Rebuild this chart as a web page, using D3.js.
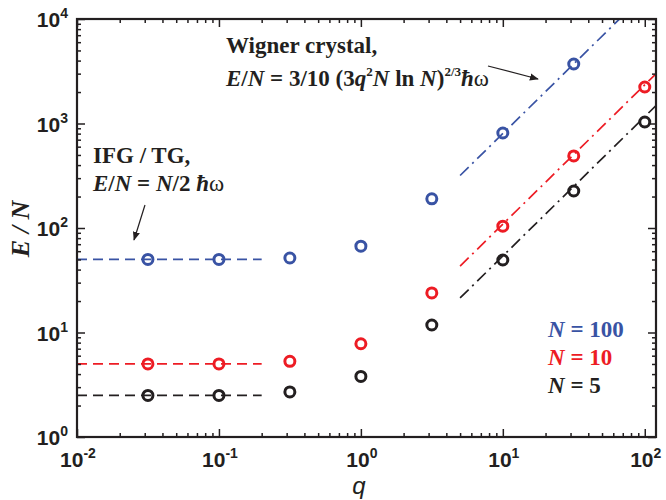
<!DOCTYPE html>
<html>
<head>
<meta charset="utf-8">
<script src="https://cdn.jsdelivr.net/npm/d3@7"></script>
<style>
body { margin: 0; background: #fff; }
svg text { fill: #231f20; }
</style>
</head>
<body>
<script>
var qVals = [0.0316, 0.1, 0.316, 1, 3.16, 10, 31.6, 100];
var eN100 = [50, 50, 51.6, 67, 190, 811, 3710, null];
var eN10 = [5, 5, 5.3, 7.8, 23.9, 104, 489, 2236];
var eN5 = [2.5, 2.5, 2.7, 3.8, 11.8, 49.4, 226, 1033];

// IFG / TG plateau levels (dashed)
var ifgLevels = [50, 5, 2.5];
var ifgRange = [0.01, 0.2];
// Wigner crystal lines (dash-dot), endpoints [q, E/N]
var wigner100 = [[5, 318], [120, 22000]];
var wigner10 = [[5, 43.2], [120, 2990]];
var wigner5 = [[5, 21.4], [120, 1483]];

var xMajor = [-2, -1, 0, 1, 2];
var yMajor = [0, 1, 2, 3, 4];

var colors = ["#3953a4", "#ed1c24", "#231f20"];
var legendLabels = ["100", "10", "5"];

var W = 666, H = 500;
var x0 = 77, x1 = 656, y0 = 437, y1 = 19;

var svg = d3.select("body").append("svg")
    .attr("width", W)
    .attr("height", H);

var x = d3.scaleLog().domain([0.01, 120]).range([x0, x1]);
var y = d3.scaleLog().domain([1, 10000]).range([y0, y1]);

svg.append("clipPath").attr("id", "clip")
    .append("rect")
    .attr("x", x0).attr("y", y1)
    .attr("width", x1 - x0).attr("height", y0 - y1);

var plot = svg.append("g").attr("clip-path", "url(#clip)");

// dashed plateau lines
ifgLevels.forEach((lv, i) => {
    plot.append("line")
        .attr("x1", x(ifgRange[0])).attr("x2", x(ifgRange[1]))
        .attr("y1", y(lv)).attr("y2", y(lv))
        .attr("stroke", colors[i])
        .attr("stroke-width", 1.7)
        .attr("stroke-dasharray", "10,6");
});

// dash-dot Wigner lines
var line = d3.line().x(d => x(d[0])).y(d => y(d[1]));
[wigner100, wigner10, wigner5].forEach((w, i) => {
    plot.append("path")
        .attr("d", line(w))
        .attr("fill", "none")
        .attr("stroke", colors[i])
        .attr("stroke-width", 1.7)
        .attr("stroke-dasharray", "12,5,2,5");
});

// open circle markers
[eN100, eN10, eN5].forEach((ser, i) => {
    var pts = qVals.map((q, j) => [q, ser[j]]).filter(d => d[1] != null);
    svg.append("g").selectAll("circle")
        .data(pts)
        .enter()
        .append("circle")
        .attr("cx", d => x(d[0]))
        .attr("cy", d => y(d[1]))
        .attr("r", 5)
        .attr("fill", "none")
        .attr("stroke", colors[i])
        .attr("stroke-width", 3);
});

// axes: ticks point inward on all four sides
var xMinor = x.ticks().filter(t => Math.abs(Math.log10(t) - Math.round(Math.log10(t))) > 1e-6);
var yMinor = y.ticks().filter(t => Math.abs(Math.log10(t) - Math.round(Math.log10(t))) > 1e-6);
var xMaj = xMajor.map(e => Math.pow(10, e));
var yMaj = yMajor.map(e => Math.pow(10, e));

function drawAxis(gen, tr, vals, size) {
    var g = svg.append("g")
        .attr("transform", tr)
        .call(gen.tickValues(vals).tickSizeInner(size).tickSizeOuter(0).tickFormat(""));
    g.select(".domain").remove();
    g.selectAll("line").attr("stroke", "#231f20").attr("stroke-width", 1.5);
}
drawAxis(d3.axisBottom(x), `translate(0,${y0})`, xMaj, -8);
drawAxis(d3.axisBottom(x), `translate(0,${y0})`, xMinor, -4);
drawAxis(d3.axisTop(x), `translate(0,${y1})`, xMaj, -8);
drawAxis(d3.axisTop(x), `translate(0,${y1})`, xMinor, -4);
drawAxis(d3.axisLeft(y), `translate(${x0},0)`, yMaj, -8);
drawAxis(d3.axisLeft(y), `translate(${x0},0)`, yMinor, -4);
drawAxis(d3.axisRight(y), `translate(${x1},0)`, yMaj, -8);
drawAxis(d3.axisRight(y), `translate(${x1},0)`, yMinor, -4);

svg.append("rect")
    .attr("x", x0).attr("y", y1)
    .attr("width", x1 - x0).attr("height", y0 - y1)
    .attr("fill", "none")
    .attr("stroke", "#231f20")
    .attr("stroke-width", 2.2);

// tick labels 10^n
function powLabel(sel, e) {
    sel.append("tspan").text("10");
    sel.append("tspan").attr("dy", -9).attr("font-size", 14).text(e);
}
xMajor.forEach(e => {
    var t = svg.append("text")
        .attr("x", x(Math.pow(10, e)) + 1)
        .attr("y", 467)
        .attr("text-anchor", "middle")
        .attr("font-family", "Liberation Sans, Arial, sans-serif")
        .attr("font-weight", "bold")
        .attr("font-size", 21);
    powLabel(t, e);
});
yMajor.forEach(e => {
    var t = svg.append("text")
        .attr("x", 68)
        .attr("y", y(Math.pow(10, e)) + 8)
        .attr("text-anchor", "end")
        .attr("font-family", "Liberation Sans, Arial, sans-serif")
        .attr("font-weight", "bold")
        .attr("font-size", 21);
    powLabel(t, e);
});

// axis titles
svg.append("text")
    .attr("x", 359).attr("y", 494)
    .attr("text-anchor", "middle")
    .attr("font-family", "Liberation Sans, Arial, sans-serif")
    .attr("font-style", "italic")
    .attr("font-size", 24)
    .text("q");
svg.append("text")
    .attr("transform", "translate(29,229) rotate(-90)")
    .attr("text-anchor", "middle")
    .attr("font-family", "Liberation Serif, Times New Roman, serif")
    .attr("font-style", "italic")
    .attr("font-weight", "bold")
    .attr("font-size", 26)
    .text("E / N");

// annotations
var serif = "Liberation Serif, Times New Roman, serif";
function ann(xp, yp) {
    return svg.append("text")
        .attr("x", xp).attr("y", yp)
        .attr("font-family", serif)
        .attr("font-weight", "bold")
        .attr("font-size", 23);
}
ann(226, 53).text("Wigner crystal,");
var w2 = ann(226, 86);
w2.append("tspan").attr("font-style", "italic").text("E");
w2.append("tspan").text("/");
w2.append("tspan").attr("font-style", "italic").text("N");
w2.append("tspan").text(" = 3/10 (3");
w2.append("tspan").attr("font-style", "italic").text("q");
w2.append("tspan").attr("dy", -10).attr("font-size", 13).text("2");
w2.append("tspan").attr("dy", 10).attr("font-style", "italic").text("N");
w2.append("tspan").text(" ln ");
w2.append("tspan").attr("font-style", "italic").text("N");
w2.append("tspan").text(")");
w2.append("tspan").attr("dy", -10).attr("font-size", 13).text("2/3");
w2.append("tspan").attr("dy", 10).attr("font-style", "italic").text("\u0127");
w2.append("tspan").attr("font-weight", "normal").text("\u03c9");

ann(93, 163).text("IFG / TG,");
var i2 = ann(93, 191);
i2.append("tspan").attr("font-style", "italic").text("E");
i2.append("tspan").text("/");
i2.append("tspan").attr("font-style", "italic").text("N");
i2.append("tspan").text(" = ");
i2.append("tspan").attr("font-style", "italic").text("N");
i2.append("tspan").text("/2 ");
i2.append("tspan").attr("font-style", "italic").text("\u0127");
i2.append("tspan").attr("font-weight", "normal").text("\u03c9");

// arrows
svg.append("defs").append("marker")
    .attr("id", "arr")
    .attr("viewBox", "0 0 10 10")
    .attr("refX", 9).attr("refY", 5)
    .attr("markerWidth", 9).attr("markerHeight", 9)
    .attr("markerUnits", "userSpaceOnUse")
    .attr("orient", "auto")
    .append("path")
    .attr("d", "M0,1 L10,5 L0,9 Z")
    .attr("fill", "#231f20");
svg.append("line")
    .attr("x1", 488).attr("y1", 66).attr("x2", 538).attr("y2", 79)
    .attr("stroke", "#231f20").attr("stroke-width", 1.2)
    .attr("marker-end", "url(#arr)");
svg.append("line")
    .attr("x1", 145).attr("y1", 205).attr("x2", 134).attr("y2", 240)
    .attr("stroke", "#231f20").attr("stroke-width", 1.2)
    .attr("marker-end", "url(#arr)");

// legend
legendLabels.forEach((lb, i) => {
    var t = svg.append("text")
        .attr("x", 548).attr("y", 337 + i * 28)
        .attr("font-family", serif)
        .attr("font-weight", "bold")
        .attr("font-size", 23);
    t.append("tspan").attr("font-style", "italic").attr("fill", colors[i]).text("N");
    t.append("tspan").attr("fill", colors[i]).text(" = " + lb);
});
</script>
</body>
</html>
